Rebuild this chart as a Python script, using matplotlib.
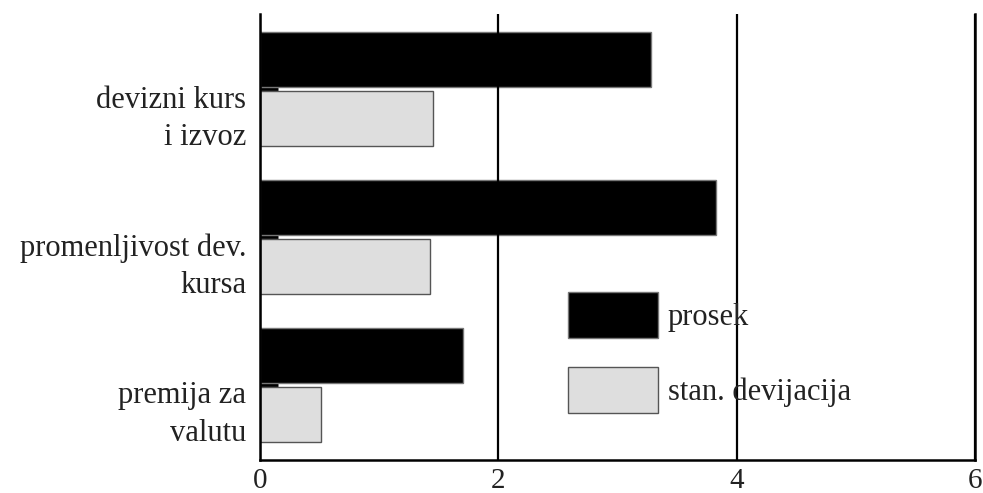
import numpy as np
import matplotlib
matplotlib.use("Agg")
import matplotlib.pyplot as plt
import matplotlib.transforms as mtransforms

CATEGORIES = ["devizni kurs\ni izvoz", "promenljivost dev.\nkursa", "premija za\nvalutu"]
PROSEK = [3.28, 3.83, 1.70]
STAN_DEV = [1.45, 1.43, 0.51]
SERIES_NAMES = ["prosek", "stan. devijacija"]
X_TICKS = [0, 2, 4, 6]

plt.rcParams['font.family'] = ['Liberation Serif', 'DejaVu Serif']
FS = 22
TXT = '#222222'

fig = plt.figure(figsize=(9.83, 4.93), dpi=100)
ax = fig.add_axes([260 / 983, 1 - 460 / 493, 715 / 983, 446 / 493])

y = np.arange(len(CATEGORIES))
h = 0.37
ax.barh(y - 0.2, PROSEK, height=h, color='black', edgecolor='#777777',
        linewidth=1, label=SERIES_NAMES[0], zorder=2)
ax.barh(y + 0.2, STAN_DEV, height=h, color='#dedede', edgecolor='#555555',
        linewidth=1, label=SERIES_NAMES[1], zorder=2)

ax.set_xlim(0, 6)
ax.set_ylim(2.507, -0.507)
ax.set_xticks(X_TICKS)
ax.set_xticklabels([str(v) for v in X_TICKS], fontsize=FS - 1, color=TXT)
ax.tick_params(axis='x', length=0, pad=6)

ax.set_yticks(y)
ax.set_yticklabels(CATEGORIES, fontsize=FS, color=TXT, ha='right',
                   multialignment='right', linespacing=1.38)
ax.tick_params(axis='y', direction='in', length=13, width=2, pad=10)
# labels sit a bit lower than the ticks
offset = mtransforms.ScaledTranslation(0, -22 / 100, fig.dpi_scale_trans)
for lab in ax.get_yticklabels():
    lab.set_transform(lab.get_transform() + offset)

ax.grid(axis='x', color='black', linewidth=1.6, zorder=1)
ax.set_axisbelow(False)
ax.spines['top'].set_visible(False)
for side in ['left', 'bottom', 'right']:
    ax.spines[side].set_linewidth(1.8)

leg = ax.legend(loc='upper left', bbox_to_anchor=((568 - 260) / 715, (460 - 292) / 446),
                frameon=False, fontsize=FS, handlelength=2.94, handleheight=1.95,
                handletextpad=0.33, labelspacing=0.95, borderpad=0, borderaxespad=0)
for t in leg.get_texts():
    t.set_color(TXT)

fig.savefig("out.png", dpi=100)
